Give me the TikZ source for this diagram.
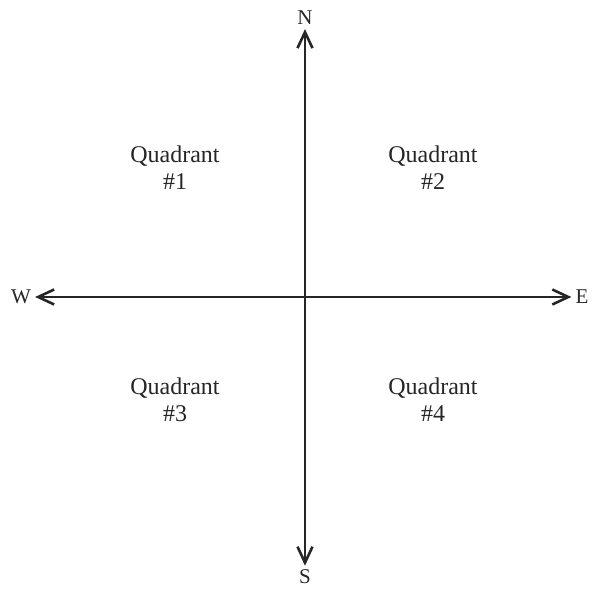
\documentclass[tikz,border=0pt]{standalone}
\usepackage{fontspec}
\setmainfont{Liberation Serif}
\usetikzlibrary{arrows.meta}
\tikzset{
  axis/.style={{Straight Barb[length=16pt,width=15pt,line width=2.6pt]}-{Straight Barb[length=16pt,width=15pt,line width=2.6pt]},
    line width=2.4pt,draw=black!85},
  dir/.style={font=\fontsize{21}{24}\selectfont,inner sep=4pt,text=black!85},
  quad/.style={font=\fontsize{24}{27}\selectfont,align=center,text=black!85},
}
\begin{document}
\begin{tikzpicture}[x=1pt,y=1pt]
  \useasboundingbox (0,0) rectangle (595,589);
  % compass letters
  \node[dir] (N) at (305,571) {N};
  \node[dir] (S) at (305,12) {S};
  \node[dir] (W) at (21,292) {W};
  \node[dir] (E) at (582,292) {E};
  % axes
  \draw[axis] (S) -- (N);
  \draw[axis] (W) -- (E);
  % quadrant labels
  \foreach \x/\y/\n in {175/421/1,433/421/2,175/189/3,433/189/4}
    \node[quad] (q\n) at (\x,\y) {Quadrant\\\#\n};
\end{tikzpicture}
\end{document}
